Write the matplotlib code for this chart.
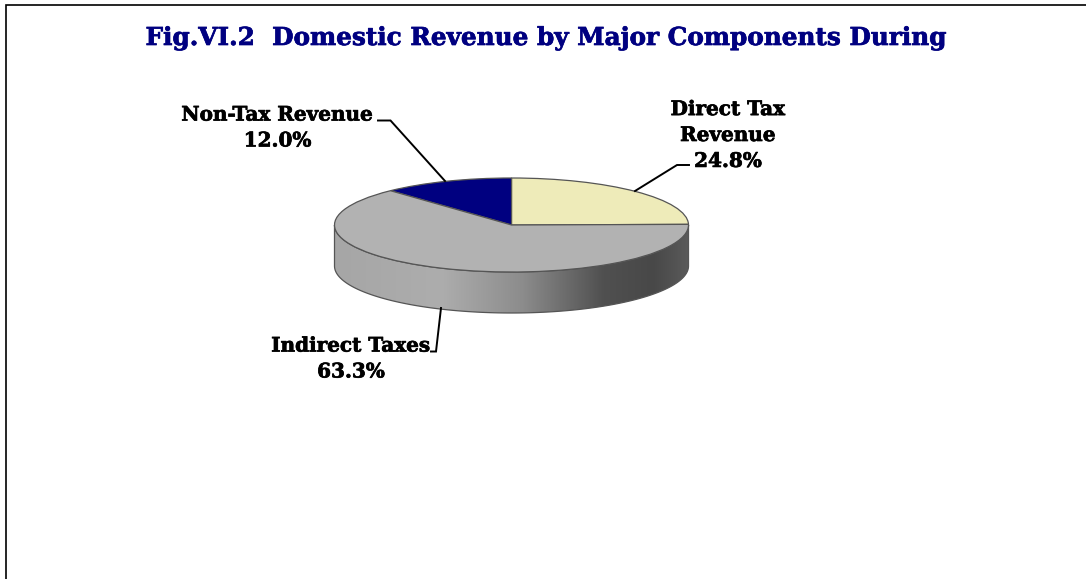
import numpy as np
import matplotlib
matplotlib.use("Agg")
import matplotlib.pyplot as plt
import matplotlib.patheffects as pe
from matplotlib.patches import Polygon
from matplotlib.colors import LinearSegmentedColormap

title = "Fig.VI.2  Domestic Revenue by Major Components During"
categories = ["Direct Tax\nRevenue", "Non-Tax Revenue", "Indirect Taxes"]
shares = [24.8, 12.0, 63.3]
colors = ["#EEEBB9", "#000080", "#B2B2B2"]

W, H = 1086, 579
CX, CY, RX, RY, DEPTH = 511.5, 225, 177, 47, 41
FONT = "DejaVu Serif"

fig = plt.figure(figsize=(W / 100, H / 100), dpi=100)
ax = fig.add_axes([0, 0, 1, 1])
ax.pie(shares, colors=colors, startangle=0.8, counterclock=True, radius=1,
       normalize=True,
       wedgeprops=dict(edgecolor="#555555", linewidth=0.9, zorder=3))
ax.axis("off")


def px(x, y):
    """Pixel position of the reference to data coordinates."""
    return (x - CX) / RX, (CY - y) / RY


# Extruded side of the pie: gradient clipped to the front rim
d = DEPTH / RY
t = np.linspace(np.pi, 2 * np.pi, 200)
top = np.c_[np.cos(t), np.sin(t)]
bot = np.c_[np.cos(t), np.sin(t) - d][::-1]
side = Polygon(np.vstack([top, bot]), closed=True, facecolor="none",
               edgecolor="#555555", linewidth=0.9, zorder=2.5)
ax.add_patch(side)
cmap = LinearSegmentedColormap.from_list(
    "side", [(0, "#A6A6A6"), (0.3, "#ADADAD"), (0.53, "#8C8C8C"),
             (0.76, "#505050"), (0.9, "#484848"), (1, "#5A5A5A")])
im = ax.imshow(np.linspace(0, 1, 256)[None, :], cmap=cmap, aspect="auto",
               extent=(-1, 1, -1 - d, 0), zorder=2)
im.set_clip_path(side)
ax.set_aspect("auto")
ax.set_xlim(-CX / RX, (W - CX) / RX)
ax.set_ylim(-(H - CY) / RY, CY / RY)

# Leader lines
leaders = [
    [(378, 120.5), (390.5, 120.5), (445, 181)],
    [(689, 165), (677, 165), (635, 191)],
    [(441, 308), (436, 351.5), (431, 351.5)],
]
for pts in leaders:
    xy = np.array([px(*p) for p in pts])
    ax.plot(xy[:, 0], xy[:, 1], color="black", lw=1.4, zorder=4,
            solid_joinstyle="miter")

# Labels
heavy = [pe.withStroke(linewidth=0.5, foreground="black")]
label_pos = [(728, 135), (277.5, 127.5), (351, 358.5)]
for cat, val, (lx, ly) in zip(categories, shares, label_pos):
    x, y = px(lx, ly)
    ax.text(x, y, f"{cat}\n{val:.1f}%", ha="center", va="center",
            family=FONT, fontweight="bold", fontsize=14.4, color="black",
            linespacing=1.37, zorder=5, path_effects=heavy)

# Title
x, y = px(546.5, 38)
ax.text(x, y, title, ha="center", va="center", family=FONT, fontweight="bold",
        fontsize=17.8, color="#000080", zorder=5,
        path_effects=[pe.withStroke(linewidth=0.5, foreground="#000080")])

# Frame: top and left only
xy = np.array([px(W, 4.5), px(5.5, 4.5), px(5.5, H)])
ax.plot(xy[:, 0], xy[:, 1], color="black", lw=1.2, zorder=1,
        solid_joinstyle="miter")

fig.savefig("out.png", dpi=100)
